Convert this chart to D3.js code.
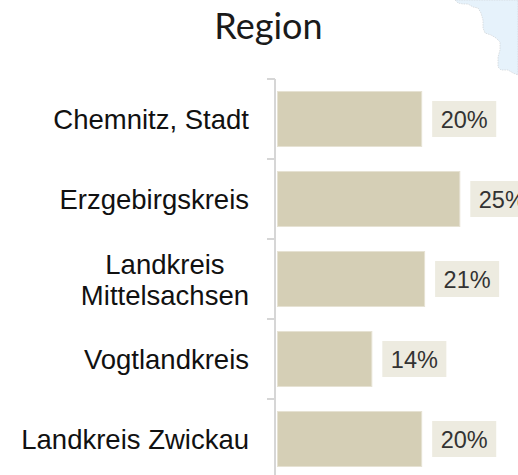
<!DOCTYPE html>
<html>
<head>
<meta charset="utf-8">
<script src="https://cdn.jsdelivr.net/npm/d3@7/dist/d3.min.js"></script>
<style>
  html, body { margin: 0; padding: 0; background: #ffffff; overflow: hidden; }
  svg { display: block; }
</style>
</head>
<body>
<svg id="chart" width="518" height="475"></svg>
<script>
// ---- data ----
const title = "Region";
const categories = ["Chemnitz, Stadt", "Erzgebirgskreis", "Landkreis Mittelsachsen", "Vogtlandkreis", "Landkreis Zwickau"];
const values = [19.8, 25.0, 20.2, 13.0, 19.8];
const valueLabels = ["20%", "25%", "21%", "14%", "20%"];

// decorative background map fragment (top-right corner)
const mapOutline = [[455,0],[458,3],[463,4],[468,4],[473,7],[478,8],[481,13],[483,20],[483,28],[485,33],[491,35],[496,38],[500,42],[500,50],[498,57],[498,67],[501,70],[508,70],[513,73],[518,75],[518,0]];

const svg = d3.select("#chart");

// map fragment
svg.append("path")
  .attr("d", d3.line()(mapOutline) + "Z")
  .attr("fill", "#e6f2fb")
  .attr("stroke", "#cfd3d6")
  .attr("stroke-width", 0.7)
  .attr("stroke-dasharray", "1.5,1");

// title
svg.append("text")
  .attr("x", 268.5).attr("y", 39)
  .attr("text-anchor", "middle")
  .attr("font-family", "Lato, 'Open Sans', sans-serif")
  .attr("font-size", 36)
  .attr("fill", "#1a1a1a")
  .text(title);

const axisX = 275;
const y = d3.scaleBand()
  .domain(categories)
  .range([79, 479])
  .paddingInner(0.3)
  .paddingOuter(0.15);

const x = d3.scaleLinear().domain([0, 25]).range([277, 460.3]);

// axis line + ticks between categories
const axisG = svg.append("g");
axisG.append("line")
  .attr("x1", axisX).attr("x2", axisX)
  .attr("y1", 79).attr("y2", 480)
  .attr("stroke", "#d6d6d6").attr("stroke-width", 2);
const step = y.step();
const tickYs = d3.range(categories.length).map(i => y.range()[0] + i * step);
axisG.selectAll("line.tick").data(tickYs).join("line")
  .attr("class", "tick")
  .attr("x1", axisX - 8).attr("x2", axisX)
  .attr("y1", d => d).attr("y2", d => d)
  .attr("stroke", "#d6d6d6").attr("stroke-width", 2);

// bars
svg.append("g").selectAll("rect").data(categories).join("rect")
  .attr("x", x(0) + 0.5)
  .attr("y", d => y(d) + 0.5)
  .attr("width", (d, i) => x(values[i]) - x(0) - 1)
  .attr("height", y.bandwidth() - 1)
  .attr("fill", "#d5cfb6")
  .attr("stroke", "#e6e2d3")
  .attr("stroke-width", 1);

// value labels with boxes
const lblG = svg.append("g");
categories.forEach((c, i) => {
  const g = lblG.append("g");
  const cy = y(c) + y.bandwidth() / 2;
  const bx = x(values[i]) + 10;
  const t = g.append("text")
    .attr("font-family", "'Liberation Sans', Arial, sans-serif")
    .attr("font-size", 23.5)
    .attr("fill", "#333333")
    .attr("text-anchor", "middle")
    .attr("dominant-baseline", "central")
    .text(valueLabels[i]);
  const w = t.node().getComputedTextLength();
  const bw = w + 17;
  g.insert("rect", "text")
    .attr("x", bx).attr("y", cy - 18)
    .attr("width", bw).attr("height", 36)
    .attr("fill", "#edebe0");
  t.attr("x", bx + bw / 2).attr("y", cy + 1);
});

// category labels (wrapped, block right-aligned, lines centered)
const catG = svg.append("g");
const maxW = 245;
const rightEdge = 249;
categories.forEach(c => {
  const t = catG.append("text")
    .attr("font-family", "'Liberation Sans', Arial, sans-serif")
    .attr("font-size", 27.5)
    .attr("fill", "#111111")
    .attr("text-anchor", "middle");
  const words = c.split(" ");
  const lines = [];
  let cur = [];
  const probe = t.append("tspan");
  words.forEach(wd => {
    const test = cur.concat([wd]).join(" ");
    probe.text(test);
    if (probe.node().getComputedTextLength() > maxW && cur.length) {
      lines.push(cur.join(" "));
      cur = [wd];
    } else cur.push(wd);
  });
  lines.push(cur.join(" "));
  probe.remove();
  const lh = 31;
  const cy = y(c) + y.bandwidth() / 2;
  const firstBase = cy - (lines.length - 1) * lh / 2 + 10;
  const spans = lines.map((ln, k) => t.append("tspan").attr("y", firstBase + k * lh).text(ln));
  const widest = d3.max(spans, s => s.node().getComputedTextLength());
  const cx = rightEdge - widest / 2;
  spans.forEach(s => s.attr("x", cx));
});
</script>
</body>
</html>
